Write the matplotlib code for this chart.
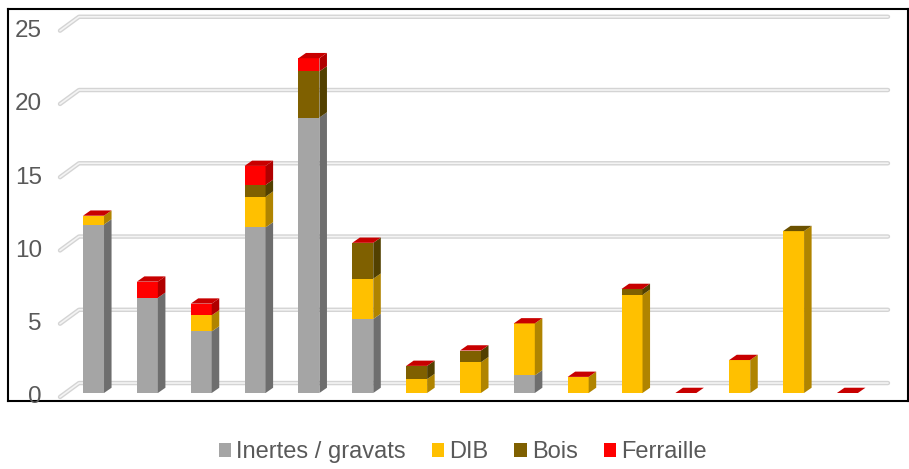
import numpy as np
import matplotlib.pyplot as plt
from matplotlib.patches import Polygon

plt.rcParams['font.family'] = ['Liberation Sans', 'DejaVu Sans']

series = ["Inertes / gravats", "DIB", "Bois", "Ferraille"]
inertes = [11.5, 6.5, 4.2, 11.3, 18.8, 5.05, 0, 0, 1.2, 0, 0, 0, 0, 0, 0]
dib = [0.6, 0, 1.1, 2.1, 0, 2.75, 0.95, 2.1, 3.55, 1.1, 6.7, 0, 2.25, 11.05, 0]
bois = [0, 0, 0, 0.8, 3.15, 2.45, 0.9, 0.8, 0, 0, 0.4, 0, 0, 0, 0]
ferraille = [0, 1.1, 0.8, 1.3, 0.9, 0, 0, 0, 0, 0, 0, 0, 0, np.nan, 0]

front = ["#A5A5A5", "#FFC000", "#7F6000", "#FF0000"]
side = ["#6E6E6E", "#B08400", "#524000", "#B00000"]
top = ["#8C8C8C", "#D9A300", "#6B5100", "#C80000"]

w = 0.39      # front face width
dx = 0.14     # depth offset (x)
dy = 0.36     # depth offset (y)

fig = plt.figure(figsize=(9.09, 4.69), dpi=100)
ax = fig.add_axes([8 / 909, 1 - 401 / 469, 900 / 909, 392 / 469])
ax.set_xlim(-1.588, 15.125)
ax.set_ylim(-0.546, 26.21)
ax.set_xticks([])
ax.set_yticks([])
for s in ax.spines.values():
    s.set_color("black")
    s.set_linewidth(1.5)

# gridlines on the back wall with a short slanted part on the left
for v in range(0, 26, 5):
    xs = [-0.622, -0.269, 14.753]
    ys = [v - 0.27, v + 0.68, v + 0.68]
    ax.plot(xs, ys, color="#D4D4D4", lw=3.2, solid_capstyle="round", zorder=1)
    ax.plot(xs, ys, color="#F4F4F4", lw=1.2, solid_capstyle="round", zorder=1.1)
    ax.text(-0.96, v - 0.3, str(v), ha="right", va="center", fontsize=17.5,
            color="#595959", clip_on=False, zorder=5)

data = np.array([inertes, dib, bois, ferraille], dtype=float)
x = np.arange(data.shape[1])

for i in x:
    base = 0.0
    last = 0
    for k in range(4):
        h = data[k, i]
        if np.isnan(h):
            continue
        last = k
        if h > 0:
            ax.bar(x[i], h, w, bottom=base, color=front[k], zorder=3)
            xr = x[i] + w / 2
            ax.add_patch(Polygon([(xr, base), (xr + dx, base + dy),
                                  (xr + dx, base + h + dy), (xr, base + h)],
                                 closed=True, facecolor=side[k], edgecolor="none", zorder=3))
        base += h
    xl = x[i] - w / 2
    ax.add_patch(Polygon([(xl, base), (xl + w, base), (xl + w + dx, base + dy),
                          (xl + dx, base + dy)],
                         closed=True, facecolor=top[last], edgecolor="none", zorder=3))

handles = [plt.Rectangle((0, 0), 1, 1, facecolor=c, edgecolor="none") for c in front]
fig.legend(handles, series, loc="center", bbox_to_anchor=(0.509, 1 - 452 / 469),
           ncol=4, frameon=False, fontsize=17, labelcolor="#595959",
           handlelength=0.52, handleheight=0.52, handletextpad=0.22, columnspacing=1.1)

fig.savefig("out.png", dpi=100)
plt.close(fig)
